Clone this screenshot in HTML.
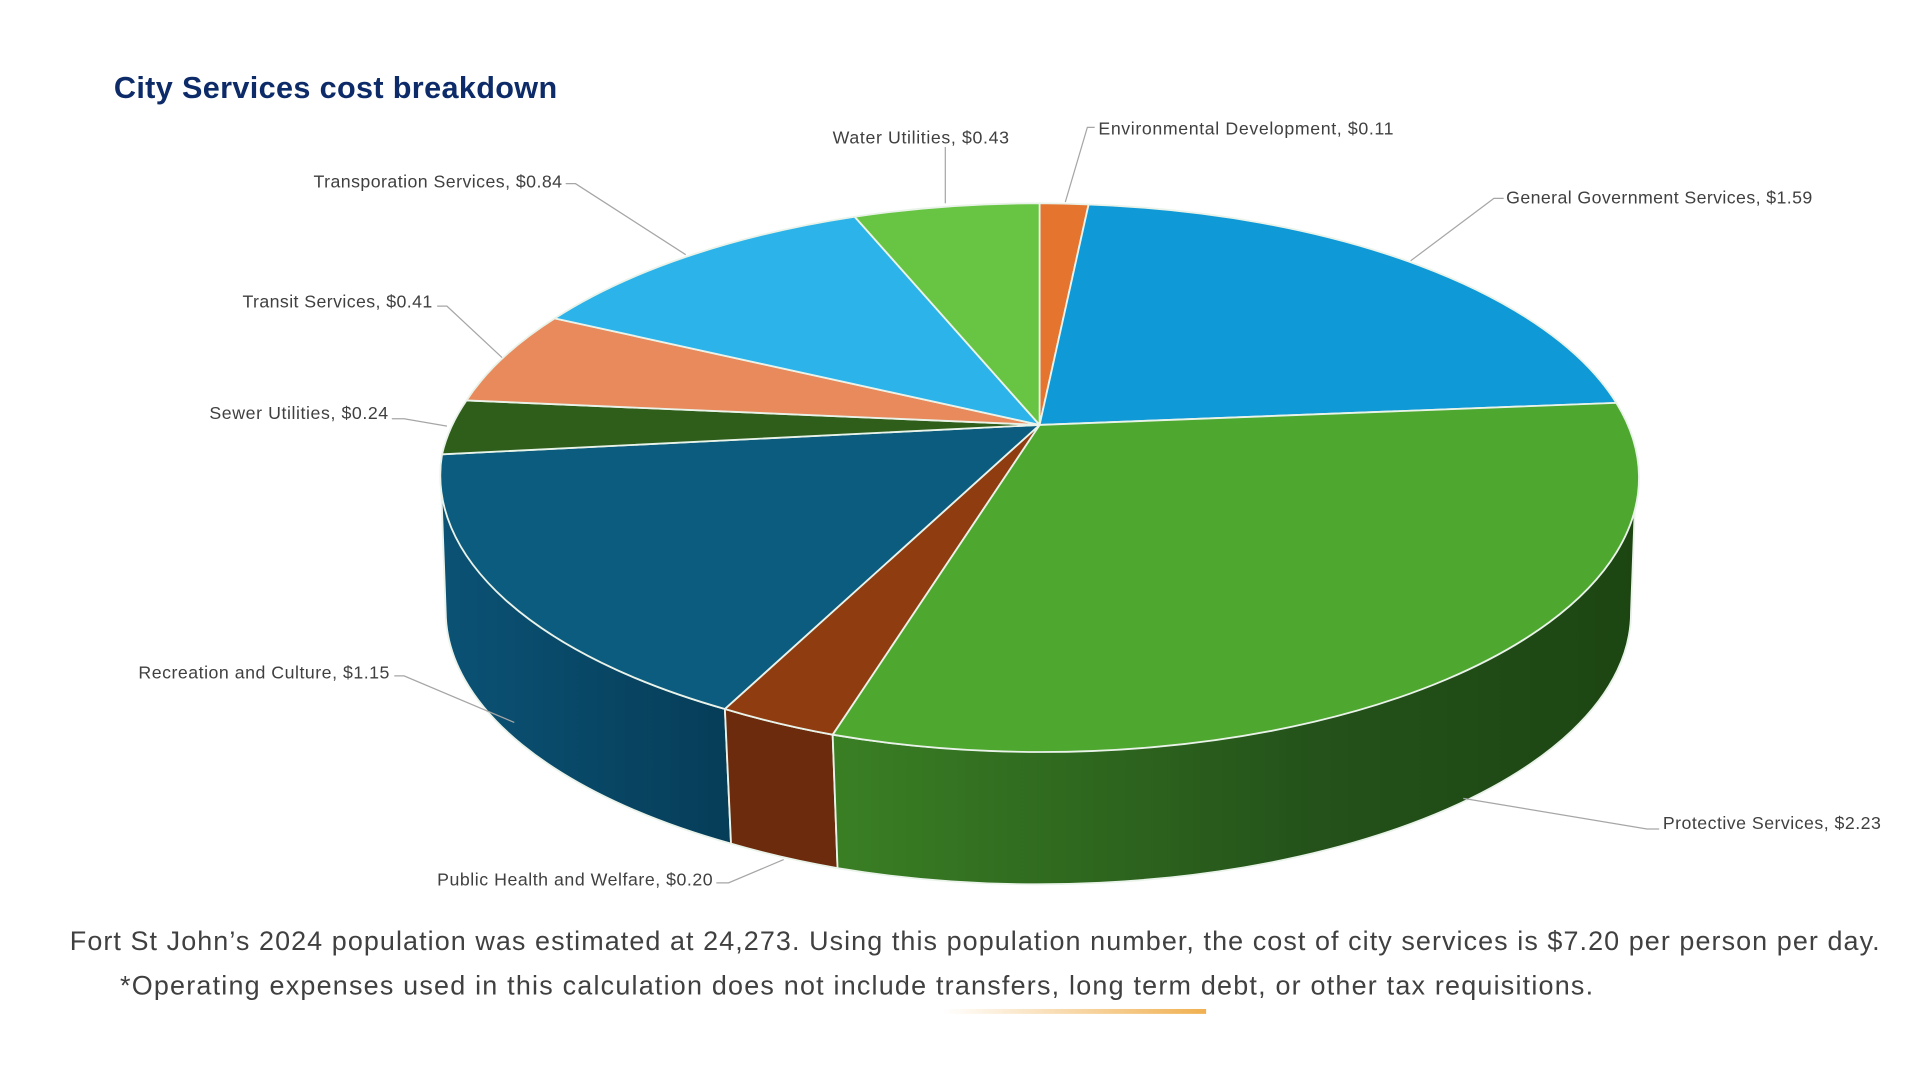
<!DOCTYPE html>
<html><head><meta charset="utf-8"><style>
html,body{margin:0;padding:0;background:#fff;width:1920px;height:1080px;overflow:hidden}
svg{display:block}
.l{font-family:"Liberation Sans",sans-serif;font-size:14.5px;fill:#404040}
.f{font-family:"Liberation Sans",sans-serif;font-size:22px;fill:#404040}
.ld{stroke:#a6a6a6;stroke-width:1;fill:none}
</style></head><body>
<svg width="1920" height="1080" viewBox="0 0 1568 882" preserveAspectRatio="none">
<defs>
<linearGradient id="gp" x1="0" x2="1" y1="0" y2="0"><stop offset="0" stop-color="#3a7f24"/><stop offset="0.6" stop-color="#24521a"/><stop offset="1" stop-color="#1c4512"/></linearGradient>
<linearGradient id="gr" x1="0" x2="1" y1="0" y2="0"><stop offset="0" stop-color="#0b5275"/><stop offset="1" stop-color="#063d58"/></linearGradient>
<linearGradient id="go" x1="0" x2="1"><stop offset="0" stop-color="#f0b050" stop-opacity="0"/><stop offset="1" stop-color="#f0b050"/></linearGradient>
</defs>
<text x="93" y="80" font-family="Liberation Sans,sans-serif" font-weight="bold" font-size="25" fill="#0d2b68" textLength="362">City Services cost breakdown</text>
<g stroke="#eaf3ea" stroke-width="1.5" stroke-linejoin="round">
<path d="M360,390 A488,224 0 0 0 592,579 L597,689 A484,222 0 0 1 364,500 Z" fill="url(#gr)"/>
<path d="M592,579 A488,224 0 0 0 680,600 L684,709 A484,222 0 0 1 597,689 Z" fill="#6b2b0c"/>
<path d="M680,600 A488,224 0 0 0 1336,390 L1332,500 A484,222 0 0 1 684,709 Z" fill="url(#gp)"/>
<path d="M849,347 L849,166 A488,224 0 0 1 889,167 Z" fill="#e5742f"/>
<path d="M849,347 L889,167 A488,224 0 0 1 1320,329 Z" fill="#0f99d6"/>
<path d="M849,347 L1320,329 A488,224 0 0 1 680,600 Z" fill="#4ea72e"/>
<path d="M849,347 L680,600 A488,224 0 0 1 592,579 Z" fill="#8f3d10"/>
<path d="M849,347 L592,579 A488,224 0 0 1 361,371 Z" fill="#0b5c7e"/>
<path d="M849,347 L361,371 A488,224 0 0 1 381,327 Z" fill="#2f5e1b"/>
<path d="M849,347 L381,327 A488,224 0 0 1 453,260 Z" fill="#e88a5c"/>
<path d="M849,347 L453,260 A488,224 0 0 1 698,177 Z" fill="#2bb3ea"/>
<path d="M849,347 L698,177 A488,224 0 0 1 849,166 Z" fill="#68c544"/>
</g>
<path class="ld" d="M772,120 L772,166"/>
<path class="ld" d="M894,104 L888,104 L870,165"/>
<path class="ld" d="M1228,162 L1220,162 L1152,213"/>
<path class="ld" d="M462,150 L470,150 L560,208"/>
<path class="ld" d="M357,250 L365,250 L410,292"/>
<path class="ld" d="M320,342 L330,342 L365,348"/>
<path class="ld" d="M322,552 L330,552 L420,590"/>
<path class="ld" d="M1355,677 L1345,677 L1195,652"/>
<path class="ld" d="M585,721 L595,721 L640,702"/>
<text class="l" x="680" y="117" textLength="144">Water Utilities, $0.43</text>
<text class="l" x="897" y="110" textLength="241">Environmental Development, $0.11</text>
<text class="l" x="1230" y="166" textLength="250">General Government Services, $1.59</text>
<text class="l" x="256" y="153" textLength="203">Transporation Services, $0.84</text>
<text class="l" x="198" y="251" textLength="155">Transit Services, $0.41</text>
<text class="l" x="171" y="342" textLength="146">Sewer Utilities, $0.24</text>
<text class="l" x="113" y="554" textLength="205">Recreation and Culture, $1.15</text>
<text class="l" x="1358" y="677" textLength="178">Protective Services, $2.23</text>
<text class="l" x="357" y="723" textLength="225">Public Health and Welfare, $0.20</text>
<text class="f" x="57" y="776" textLength="1478">Fort St John’s 2024 population was estimated at 24,273. Using this population number, the cost of city services is $7.20 per person per day.</text>
<text class="f" x="98" y="812" textLength="1203">*Operating expenses used in this calculation does not include transfers, long term debt, or other tax requisitions.</text>
<rect x="770" y="824" width="215" height="4" fill="url(#go)"/>
</svg>
</body></html>
